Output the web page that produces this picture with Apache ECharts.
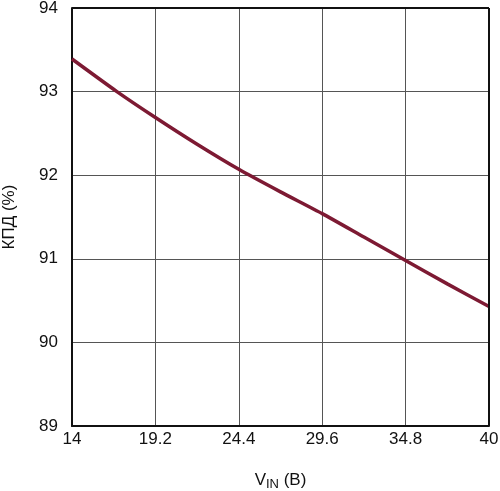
<!DOCTYPE html>
<html>
<head>
<meta charset="utf-8">
<script src="https://cdn.jsdelivr.net/npm/echarts@6/dist/echarts.min.js"></script>
<style>
  html, body { margin: 0; padding: 0; background: #fff; }
  #chart { width: 500px; height: 491px; }
</style>
</head>
<body>
<div id="chart"></div>
<script>
// values
const vin = [14, 16.8, 19.2, 21.8, 24.4, 27.0, 29.6, 32.2, 34.8, 37.4, 40];
const efficiency = [93.39, 93.0, 92.69, 92.37, 92.07, 91.80, 91.54, 91.26, 90.98, 90.70, 90.43];

const chart = echarts.init(document.getElementById('chart'));
const font = '"Liberation Sans", Arial, sans-serif';

chart.setOption({
  animation: false,
  grid: { left: 72, right: 11, top: 8, bottom: 65, outerBoundsMode: 'none', containLabel: false },
  xAxis: {
    type: 'value',
    min: 14,
    max: 40,
    interval: 5.2,
    name: '{v|V}{sub|IN}{v| (В)}',
    nameLocation: 'middle',
    nameGap: 44,
    nameTextStyle: {
      rich: {
        v: { fontFamily: font, fontSize: 17, color: '#111' },
        sub: { fontFamily: font, fontSize: 13, color: '#111', padding: [8, 0, 0, 0] }
      }
    },
    axisLine: { show: true, lineStyle: { color: '#111', width: 2 } },
    axisTick: { show: false },
    axisLabel: {
      margin: 5,
      fontFamily: font,
      fontSize: 17,
      color: '#111',
      formatter: v => String(Number(v.toFixed(1)))
    },
    splitLine: { show: true, lineStyle: { color: '#555', width: 1 } }
  },
  yAxis: {
    type: 'value',
    min: 89,
    max: 94,
    interval: 1,
    name: 'КПД (%)',
    nameLocation: 'middle',
    nameGap: 54,
    nameTextStyle: { fontFamily: font, fontSize: 17, color: '#111' },
    axisLine: { show: true, lineStyle: { color: '#111', width: 2 } },
    axisTick: { show: false },
    axisLabel: { margin: 14, fontFamily: font, fontSize: 17, color: '#111' },
    splitLine: { show: true, lineStyle: { color: '#555', width: 1 } }
  },
  series: [
    {
      type: 'line',
      data: vin.map((x, i) => [x, efficiency[i]]),
      smooth: 0.2,
      showSymbol: false,
      lineStyle: { color: '#7d1a33', width: 3.5 }
    },
    {
      // top and right frame of the plot
      type: 'line',
      data: [],
      markLine: {
        silent: true,
        symbol: 'none',
        label: { show: false },
        lineStyle: { color: '#111', width: 2, type: 'solid' },
        data: [{ yAxis: 94 }, { xAxis: 40 }]
      }
    }
  ]
});
</script>
</body>
</html>
